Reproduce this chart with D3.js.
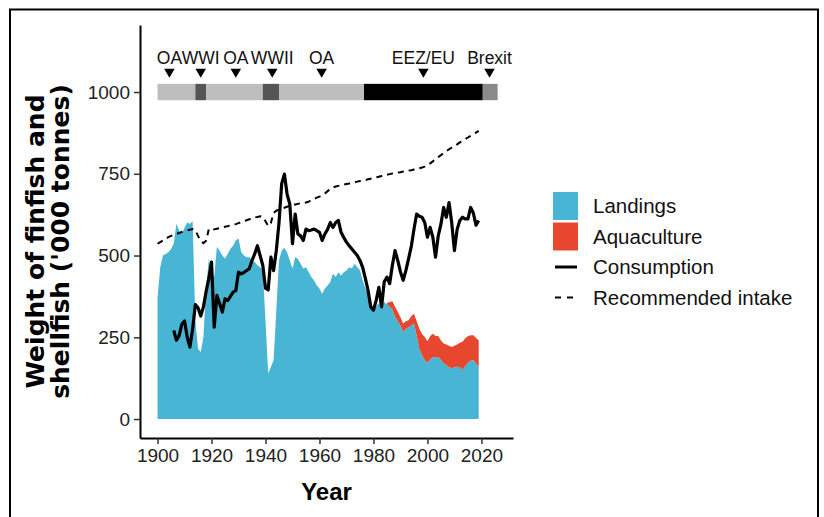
<!DOCTYPE html>
<html>
<head>
<meta charset="utf-8">
<script src="https://cdn.jsdelivr.net/npm/d3@7"></script>
<style>
  body { margin: 0; background: #fff; }
  text { font-family: "Liberation Sans", Arial, Helvetica, sans-serif; }
</style>
</head>
<body>
<script>
// landings ('000 t), one value per year 1900-2019
const landingsStart = 1900;
const landings = [
  370, 464, 500, 505, 510, 520, 536, 597, 576, 567,
  585, 601, 597, 605, 302, 215, 205, 251, 400, 490,
  449, 434, 527, 515, 500, 491, 505, 521, 530, 546,
  552, 510, 500, 495, 495, 485, 480, 470, 464, 454,
  300, 140, 160, 180, 332, 485, 515, 524, 510, 485,
  460, 495, 490, 475, 460, 464, 449, 434, 424, 408,
  399, 383, 399, 408, 419, 445, 434, 449, 439, 449,
  454, 464, 460, 475, 464, 455, 424, 400, 383, 345,
  333, 345, 354, 356, 358, 350, 343, 335, 312, 300,
  285, 266, 275, 281, 286, 292, 255, 215, 195, 180,
  172, 182, 190, 188, 190, 182, 170, 165, 158, 155,
  158, 160, 158, 150, 162, 172, 178, 180, 170, 160
];

// aquaculture ('000 t) stacked on landings, 1985-2019
const aquaStart = 1985;
const aquaculture = [
  5, 15, 25, 31, 28, 26, 26, 24, 21, 28,
  30, 45, 61, 65, 71, 66, 71, 71, 66, 64,
  58, 61, 63, 66, 65, 66, 68, 75, 86, 85,
  81, 78, 76, 78, 81
];

// consumption ('000 t), 1906-2019
const consStart = 1906;
const consumption = [
  271, 241, 255, 290,
  300, 250, 220, 275, 350, 340, 315, 343, 390, 430,
  480, 281, 378, 353, 327, 368, 362, 375, 388, 393,
  449, 444, 448, 454, 460, 485, 505, 530, 500, 470,
  400, 395, 495, 454, 515, 600, 720, 749, 688, 657,
  536, 627, 566, 560, 546, 581, 576, 578, 581, 576,
  571, 546, 566, 580, 601, 586, 601, 607, 571, 555,
  541, 530, 520, 510, 500, 485, 464, 430, 393, 343,
  333, 363, 403, 343, 420, 434, 414, 470, 515, 485,
  450, 424, 454, 490, 527, 580, 627, 620, 617, 601,
  556, 586, 556, 495, 560, 596, 647, 617, 662, 600,
  515, 580, 607, 617, 612, 612, 647, 630, 593, 607
];

// recommended intake ('000 t), 1900-2019
const recStart = 1900;
const recommended = [
  536, 541, 546, 551, 556, 560, 563, 566, 569, 572,
  575, 577, 579, 581, 578, 560, 545, 538, 545, 581,
  578, 580, 582, 584, 586, 588, 590, 592, 594, 596,
  599, 602, 605, 608, 611, 614, 617, 618, 620, 618,
  605, 590, 600, 630, 637, 640, 643, 646, 649, 652,
  654, 656, 658, 660, 661, 662, 665, 669, 673, 677,
  680, 683, 690, 697, 703, 708, 711, 713, 715, 717,
  719, 720, 722, 724, 726, 728, 729, 731, 733, 735,
  737, 739, 741, 743, 745, 747, 749, 751, 752, 754,
  755, 757, 758, 760, 761, 763, 764, 767, 769, 772,
  776, 782, 788, 795, 801, 807, 813, 819, 825, 830,
  835, 840, 846, 851, 856, 861, 866, 871, 876, 881
];

// management periods shown in the top bar
const periodStart = [1900, 1914, 1918, 1939, 1945, 1976.5, 2020.5];
const periodEnd   = [1914, 1918, 1939, 1945, 1976.5, 2020.5, 2026];
const periodType  = ["open", "war", "open", "war", "open", "eez", "brexit"];
const periodColor = { open: "#bdbdbd", war: "#555555", eez: "#000000", brexit: "#8a8a8a" };

// event markers
const eventLabels = ["OA", "WWI", "OA", "WWII", "OA", "EEZ/EU", "Brexit"];
const eventYears  = [1904.4, 1916, 1929, 1942.5, 1960.8, 1998.5, 2023];

const xTicks = [1900, 1920, 1940, 1960, 1980, 2000, 2020];
const yTicks = [0, 250, 500, 750, 1000];

const legendLabels = ["Landings", "Aquaculture", "Consumption", "Recommended intake"];

const colLand = "#49b5d4";
const colAqua = "#e8472f";

const svg = d3.select("body")
    .append("svg")
    .attr("width", 824)
    .attr("height", 517);

// outer frame
svg.append("rect")
    .attr("x", 10).attr("y", 9.5)
    .attr("width", 808).attr("height", 530)
    .attr("fill", "none")
    .attr("stroke", "#000")
    .attr("stroke-width", 2);

const x = d3.scaleLinear()
    .domain([1893.5, 2031.7])
    .range([140, 513]);

const y = d3.scaleLinear()
    .domain([-58, 1205])
    .range([438, 25]);

const landData = landings.map((v, i) => ({ year: landingsStart + i, v: v }));
const aquaData = aquaculture.map((v, i) => {
    const yr = aquaStart + i;
    const base = landings[yr - landingsStart];
    return { year: yr, lo: base, hi: base + v };
});
const consData = consumption.map((v, i) => ({ year: consStart + i, v: v }));
const recData = recommended.map((v, i) => ({ year: recStart + i, v: v }));

// landings area
svg.append("path")
    .datum(landData)
    .attr("fill", colLand)
    .attr("d", d3.area()
        .x(d => x(d.year))
        .y0(y(0))
        .y1(d => y(d.v)));

// aquaculture stacked area
svg.append("path")
    .datum(aquaData)
    .attr("fill", colAqua)
    .attr("d", d3.area()
        .x(d => x(d.year))
        .y0(d => y(d.lo))
        .y1(d => y(d.hi)));

// recommended intake
svg.append("path")
    .datum(recData)
    .attr("fill", "none")
    .attr("stroke", "#000")
    .attr("stroke-width", 2)
    .attr("stroke-dasharray", "6,5")
    .attr("d", d3.line().x(d => x(d.year)).y(d => y(d.v)));

// consumption
svg.append("path")
    .datum(consData)
    .attr("fill", "none")
    .attr("stroke", "#000")
    .attr("stroke-width", 3.2)
    .attr("stroke-linejoin", "round")
    .attr("d", d3.line().x(d => x(d.year)).y(d => y(d.v)));

// period bar
svg.selectAll(".period")
    .data(periodStart)
    .enter()
    .append("rect")
    .attr("class", "period")
    .attr("x", d => x(d))
    .attr("width", (d, i) => x(periodEnd[i]) - x(d))
    .attr("y", y(1025))
    .attr("height", y(975) - y(1025))
    .attr("fill", (d, i) => periodColor[periodType[i]]);

// event triangles and labels
const tri = d3.symbol().type(d3.symbolTriangle).size(48);
svg.selectAll(".tri")
    .data(eventYears)
    .enter()
    .append("path")
    .attr("class", "tri")
    .attr("d", tri)
    .attr("transform", d => `translate(${x(d)},${y(1062)}) rotate(180)`)
    .attr("fill", "#000");

svg.selectAll(".evlab")
    .data(eventYears)
    .enter()
    .append("text")
    .attr("class", "evlab")
    .attr("x", d => x(d))
    .attr("y", y(1085))
    .attr("text-anchor", "middle")
    .style("font-size", "17.5px")
    .attr("fill", "#111")
    .text((d, i) => eventLabels[i]);

// axes
const xAxis = svg.append("g")
    .attr("transform", "translate(0,438)")
    .call(d3.axisBottom(x).tickValues(xTicks).tickFormat(d3.format("d")).tickSize(6).tickSizeOuter(0).tickPadding(5));

const yAxis = svg.append("g")
    .attr("transform", "translate(140,0)")
    .call(d3.axisLeft(y).tickValues(yTicks).tickFormat(d3.format("d")).tickSize(6).tickSizeOuter(0).tickPadding(4));

[xAxis, yAxis].forEach(g => {
    g.select(".domain").attr("stroke", "#000").attr("stroke-width", 2);
    g.selectAll(".tick line").attr("stroke", "#333").attr("stroke-width", 1.5);
    g.selectAll(".tick text")
        .attr("fill", "#222")
        .style("font-size", "19px")
        .style("font-family", "'Liberation Sans', Arial, sans-serif");
});

// axis titles
svg.append("text")
    .attr("x", (140 + 513) / 2)
    .attr("y", 500)
    .attr("text-anchor", "middle")
    .style("font-size", "24px")
    .style("font-weight", "bold")
    .text("Year");

const yTitle = svg.append("text")
    .attr("transform", `translate(44,${(25 + 438) / 2 + 10}) rotate(-90)`)
    .attr("text-anchor", "middle")
    .style("font-family", "'DejaVu Sans', sans-serif")
    .style("font-size", "25px")
    .style("font-weight", "bold");
yTitle.append("tspan").attr("x", 0).attr("dy", 0).text("Weight of finfish and");
yTitle.append("tspan").attr("x", 0).attr("dy", 25).text("shellfish ('000 tonnes)");

// legend
const legend = svg.append("g").attr("transform", "translate(553,191)");
const rowH = 30.5;
legend.selectAll(".lab")
    .data(legendLabels)
    .enter()
    .append("text")
    .attr("x", 40)
    .attr("y", (d, i) => 15 + i * rowH)
    .attr("dy", "0.35em")
    .style("font-size", "20.5px")
    .attr("fill", "#111")
    .text(d => d);

legend.append("rect").attr("x", 0).attr("y", 1).attr("width", 25).attr("height", 28).attr("fill", colLand);
legend.append("rect").attr("x", 0).attr("y", 1 + rowH).attr("width", 25).attr("height", 28).attr("fill", colAqua);
legend.append("line")
    .attr("x1", 2).attr("x2", 24)
    .attr("y1", 15 + 2 * rowH).attr("y2", 15 + 2 * rowH)
    .attr("stroke", "#000").attr("stroke-width", 3);
legend.append("line")
    .attr("x1", 2).attr("x2", 24)
    .attr("y1", 15 + 3 * rowH).attr("y2", 15 + 3 * rowH)
    .attr("stroke", "#000").attr("stroke-width", 2)
    .attr("stroke-dasharray", "6,6");
</script>
</body>
</html>
